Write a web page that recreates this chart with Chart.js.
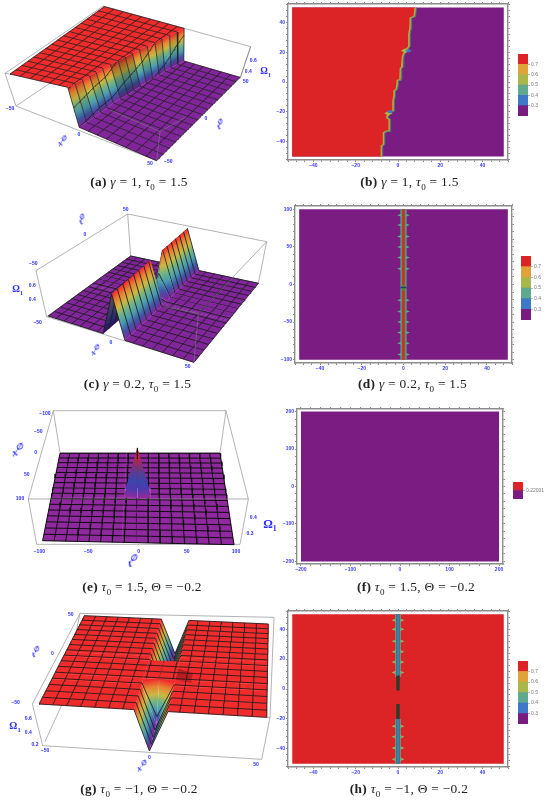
<!DOCTYPE html>
<html><head><meta charset="utf-8">
<script src="https://cdn.jsdelivr.net/npm/chart.js@4"></script>
<style>
html,body{margin:0;padding:0;background:#fff}
body{position:relative;width:550px;height:800px;overflow:hidden}
canvas{position:absolute;filter:blur(.35px)}
.cap{position:absolute;transform:translate(-50%,-50%);font:13.4px "Liberation Serif",serif;letter-spacing:.28px;color:#222;white-space:nowrap;filter:blur(.2px)}
.cap sub{font-size:9px;line-height:0}
.t{position:absolute;transform:translate(-50%,-50%);color:#2a2aff;font:bold 5px "Liberation Sans",sans-serif;white-space:nowrap;filter:blur(.25px)}
.n{font:bold italic 8px "Liberation Serif",serif}
.n.o{font-style:normal}
.n sup{font-size:.75em;line-height:0}
.n sub{font-size:.65em;line-height:0}
</style></head><body>
<script>
/* ---------- data ---------- */
const meshTicks50=[-50,-43.75,-37.5,-31.25,-25,-18.75,-12.5,-6.25,0,6.25,12.5,18.75,25,31.25,37.5,43.75,50];
const meshTicks100=[-100,-87.5,-75,-62.5,-50,-37.5,-25,-12.5,0,12.5,25,37.5,50,62.5,75,87.5,100];
// (a) height field: top and foot of the front by t
const rowsA=[-50,-43.75,-37.5,-31.25,-25,-18.75,-12.5,-6.25,0,6.25,12.5,18.75,25,31.25,37.5,43.75,50];
const wallTopA=[-13,-12,-11,-10,-9.5,-9,-7.5,-6,-5,-4,-3,-1.5,0,1,2.5,4,5];
const wallFootA=[0,.5,1,1.5,1.5,1.5,2.5,3.5,4,4.5,5,6,7,7.5,8.5,10,11];
const shadeA=[.95,.9,1,.9,1,1,.8,.75,.8,1,.9,1,.9,1,.9,1,1];
// (c) ridge: peak height by t
const rowsC=[-50,-37.5,-25,-12.5,-4,-2.5,1,6,12,25,37.5,50];
const peakC=[.75,.75,.75,.75,.75,.28,.3,.5,.75,.75,.75,.75];
// (e) spike
const rowsE=[-100,-14,0,9,100];
const stationsE=[-100,-15,0,15,100];
const omegaE=[[.25,.25,.25,.25,.25],[.25,.25,.25,.25,.25],[.25,.25,.5,.25,.25],[.25,.25,.25,.25,.25],[.25,.25,.25,.25,.25]];
// (g) valley: floor height by t
const rowsG=[-50,-37.5,-26,-20,-1,4,12.5,25,37.5,50];
const floorG=[.22,.22,.22,.75,.75,.22,.22,.22,.22,.22];
// (b) contour front
const frontBx=[-8,-8,-7,-7,-5.5,-4.3,-4.3,-5.5,-5,-5.5,-4,-2.5,-2.5,-2.5,-2,-2,-1,-.5,-.5,.8,1,1.6,2,2.5,3.5,5,5,5.5,5.7,7.5,8];
const frontBy=[-50,-43,-42,-34,-33,-33,-25,-24,-22,-21,-20,-19.5,-15,-13,-9,-6,-5,-1,1,1.5,9,10,17,19,21,24,32,36,43,44,50];
// (d) (h) contour bumps
const bumpsD=[92,79,64,50,36,21,-21,-36,-50,-64,-78,-93];
const bumpsH=[46,40,32,25,18,11,-25,-32,-39.5,-47];
// colour-bar bands
const bandEdges=[.2,.3,.4,.5,.6,.7,.8];
const bandColors=['#781c81','#3f78c8','#5fa98f','#a9b64a','#e0a33a','#dc2427'];
const barTicks=[.3,.4,.5,.6,.7];
const rainbow=['#80259a','#3f56a7','#4a9bb0','#6db388','#cab843','#e78532','#ef2b2c'];
const sparkE=['#90299f','#3c3fb0','#3a4aa8','#7a2f7a','#c02a40','#d8242c'];
const darkBack=['#2a1560','#2a2a70','#3a3a68','#4a4a5a','#5a5040'];

/* ---------- helpers ---------- */
const PURPLE='#7a1c82',RED='#dc2427',TEAL='#5fa98f',YG='#a9b64a',BLUE='#3f78c8',BLUEFONT='#3a3aff';
function hex(c){return [1,3,5].map(i=>parseInt(c.substr(i,2),16));}
function pal(p,v){v=Math.max(0,Math.min(1,v));const f=v*(p.length-1),i=Math.min(p.length-2,Math.floor(f)),r=f-i,
 a=hex(p[i]),b=hex(p[i+1]);return 'rgb('+a.map((q,k)=>Math.round(q+(b[k]-q)*r)).join(',')+')';}
function shadeCol(c,s){const m=c.match(/\d+/g).map(Number);return 'rgb('+m.map(q=>Math.round(q*s)).join(',')+')';}
function sq2q(A,C,D,B){const [x0,y0]=A,[x1,y1]=C,[x2,y2]=D,[x3,y3]=B,
 dx1=x1-x2,dx2=x3-x2,sx=x0-x1+x2-x3,dy1=y1-y2,dy2=y3-y2,sy=y0-y1+y2-y3,den=dx1*dy2-dx2*dy1,
 g=(sx*dy2-dx2*sy)/den,h=(dx1*sy-sx*dy1)/den,a=x1-x0+g*x1,b=x3-x0+h*x3,c=x0,d=y1-y0+g*y1,e=y3-y0+h*y3,f=y0;
 return (u,v)=>{const w=g*u+h*v+1;return [(a*u+b*v+c)/w,(d*u+e*v+f)/w];};}
function line(data,color,w,extra){return Object.assign({type:'scatter',showLine:true,data,borderColor:color,borderWidth:w,pointRadius:0,fill:false,tension:0},extra||{});}
function poly(data,color,edge,w){return {type:'scatter',showLine:true,data:data.concat([data[0]]),backgroundColor:color,borderColor:edge||color,borderWidth:w===undefined?.4:w,pointRadius:0,fill:'shape',tension:0};}
function rect(a,b,c,d,col){return poly([{x:a,y:c},{x:b,y:c},{x:b,y:d},{x:a,y:d}],col,col,0);}
function diamond(cx,cy,hw,hh,col){return poly([{x:cx-hw,y:cy},{x:cx,y:cy-hh},{x:cx+hw,y:cy},{x:cx,y:cy+hh}],col,col,0);}
function seq(ds){ds.forEach((d,i)=>d.order=-i);return ds;}

/* ---------- projected height-field panel ---------- */
function surface3D(v){
 const H0=sq2q(v.z0[0],v.z0[2],v.z0[3],v.z0[1]),H1=sq2q(v.z1[0],v.z1[2],v.z1[3],v.z1[1]);
 const [a0,a1]=v.aRange,[b0,b1]=v.bRange,[o0,o1]=v.oRange;
 const P=(a,b,o)=>{const u=(a-a0)/(a1-a0),w=(b-b0)/(b1-b0),z=(o-o0)/(o1-o0),p=H0(u,w),q=H1(u,w);
   return {x:p[0]+(q[0]-p[0])*z,y:p[1]+(q[1]-p[1])*z};};
 const out=[];
 const pushBox=(list,c,w)=>{const d=[];list.forEach(s=>{s.forEach(p=>d.push({x:p[0],y:p[1]}));d.push({x:NaN,y:NaN});});out.push(line(d,c,w));};
 pushBox(v.boxBack,'#a0a0a0',.8);
 const nR=v.rows.length,nC=v.stations[0].length;
 let rowsIdx=[...Array(nR-1).keys()];if(v.farHigh)rowsIdx.reverse();
 const order=[];
 if(v.order==='col'){for(let j=0;j<nC-1;j++)for(const i of rowsIdx)order.push([i,j]);}
 else{for(const i of rowsIdx)for(const j of v.colOrder)order.push([i,j]);}
 for(const [i,j] of order){
  const bA=v.rows[i],bB=v.rows[i+1],a00=v.stations[i][j],a01=v.stations[i][j+1],a10=v.stations[i+1][j],a11=v.stations[i+1][j+1],
   z00=v.omega[i][j],z01=v.omega[i][j+1],z10=v.omega[i+1][j],z11=v.omega[i+1][j+1];
  const pts=[P(a00,bA,z00),P(a01,bA,z01),P(a11,bB,z11),P(a10,bB,z10)];
  const zs=[z00,z01,z11,z10],zmin=Math.min(...zs),zmax=Math.max(...zs);
  let area=0;for(let k=0;k<4;k++){const n=pts[(k+1)%4];area+=pts[k].x*n.y-n.x*pts[k].y;}
  const back=(area*v.front<0)&&v.back;
  const palette=back?v.back:v.palette;
  const norm=o=>(o-o0)/(o1-o0);
  const sh=v.shade&&zmax-zmin>.01?v.shade[i]:1;
  const ds=poly(pts,null);
  if(zmax-zmin<1e-6){const c=pal(palette,norm(zmin));ds.backgroundColor=c;ds.borderColor=c;}
  else{
   const mx=pts.reduce((s,p)=>s+p.x,0)/4,my=pts.reduce((s,p)=>s+p.y,0)/4,mz=zs.reduce((s,q)=>s+q,0)/4;
   let sxx=0,sxy=0,syy=0,sxz=0,syz=0;pts.forEach((p,k)=>{const X=p.x-mx,Y=p.y-my,Z=zs[k]-mz;sxx+=X*X;sxy+=X*Y;syy+=Y*Y;sxz+=X*Z;syz+=Y*Z;});
   const det=sxx*syy-sxy*sxy;
   let gx=0,gy=-1e-3;if(Math.abs(det)>1e-6){gx=(sxz*syy-syz*sxy)/det;gy=(syz*sxx-sxz*sxy)/det;}
   const g2=gx*gx+gy*gy||1e-6,G0={x:mx+gx/g2*(zmin-mz),y:my+gy/g2*(zmin-mz)},G1={x:mx+gx/g2*(zmax-mz),y:my+gy/g2*(zmax-mz)};
   const midCol=pal(palette,norm((zmin+zmax)/2));
   ds.backgroundColor=(c)=>{const ch=c.chart,sx=ch.scales.x,sy=ch.scales.y;
     const q=[sx.getPixelForValue(G0.x),sy.getPixelForValue(G0.y),sx.getPixelForValue(G1.x),sy.getPixelForValue(G1.y)];
     if(!q.every(Number.isFinite))return midCol;
     const gr=ch.ctx.createLinearGradient(q[0],q[1],q[2],q[3]);
     for(let k=0;k<=6;k++)gr.addColorStop(k/6,shadeCol(pal(palette,norm(zmin+(zmax-zmin)*k/6)),sh));return gr;};
   ds.borderColor='rgba(0,0,0,0)';ds.borderWidth=0;
  }
  out.push(ds);
  // mesh inside this cell
  if(!v.meshSkipSlopes||zmax-zmin<1e-6){
   const m=[];
   const lo=Math.min(bA,bB),hi=Math.max(bA,bB);
   for(const bm of v.meshB){
    const inside=v.farHigh?(bm>lo&&bm<=hi)||(bm===lo&&lo===b0):(bm>=lo&&bm<hi)||(bm===hi&&hi===b1);
    if(!inside)continue;
    const s=(bm-bA)/(bB-bA),xl=a00+(a10-a00)*s,xr=a01+(a11-a01)*s,zl=z00+(z10-z00)*s,zr=z01+(z11-z01)*s;
    m.push(P(xl,bm,zl),P(xr,bm,zr),{x:NaN,y:NaN});}
   for(const am of v.meshA){let pen=false;
    if(v.noAWalls&&zmax-zmin>1e-6)continue;
    for(let k=0;k<=8;k++){const s=k/8,xl=a00+(a10-a00)*s,xr=a01+(a11-a01)*s;
     if(am<xl-1e-6||am>xr+1e-6||(am<=xl+1e-6&&xl!==a0)){if(pen){m.push({x:NaN,y:NaN});pen=false;}continue;}
     const q=xr>xl?(am-xl)/(xr-xl):0,z=(z00+(z01-z00)*q)*(1-s)+(z10+(z11-z10)*q)*s;
     m.push(P(am,bA+(bB-bA)*s,z));pen=true;}
    m.push({x:NaN,y:NaN});}
   if(m.length)out.push(line(m,v.meshColor||'#1a1a1a',v.meshW||.75));
  }
 }
 if(v.extra)v.extra(out,P);
 pushBox(v.boxFront,'rgba(120,120,120,.75)',.8);
 return seq(out);
}
function chart3D(ox,oy,view){
 const c=document.createElement('canvas');c.width=275;c.height=200;c.style.left=ox+'px';c.style.top=oy+'px';document.body.appendChild(c);
 new Chart(c,{type:'scatter',data:{datasets:surface3D(view)},options:{responsive:false,animation:false,events:[],
  layout:{padding:0},plugins:{legend:{display:false},tooltip:{enabled:false},title:{display:false}},
  scales:{x:{type:'linear',min:0,max:825,display:false},y:{type:'linear',min:0,max:600,reverse:true,display:false}}}});
}
function contour(fr,xr,yr,xStep,xMaj,yStep,yMaj,ds){
 const L=22,R=4,T=4,B=14;
 const c=document.createElement('canvas');c.width=fr[2]-fr[0]+L+R;c.height=fr[3]-fr[1]+T+B;c.style.left=(fr[0]-L)+'px';c.style.top=(fr[1]-T)+'px';document.body.appendChild(c);
 const gridOpt={drawOnChartArea:false,drawTicks:true,tickLength:2,tickColor:'#555',lineWidth:.7};
 const bd={color:'#8c8c8c',width:1.4};
 const fmt=maj=>v=>v%maj===0?(v<0?'\u2212'+(-v):''+v):'';
 const tk=(maj,step)=>({stepSize:step,autoSkip:false,maxRotation:0,includeBounds:false,color:BLUEFONT,font:{size:5,weight:'bold',family:'Liberation Sans'},padding:1,callback:fmt(maj)});
 new Chart(c,{type:'scatter',data:{datasets:seq(ds)},options:{responsive:false,animation:false,events:[],
  layout:{padding:0},plugins:{legend:{display:false},tooltip:{enabled:false}},
  scales:{
   x:{type:'linear',position:'bottom',min:xr[0],max:xr[1],grid:gridOpt,border:bd,ticks:tk(xMaj,xStep),afterFit:s=>{s.height=B;}},
   y:{type:'linear',position:'left',min:yr[0],max:yr[1],grid:gridOpt,border:bd,ticks:tk(yMaj,yStep),afterFit:s=>{s.width=L;}},
   xTop:{type:'linear',axis:'x',position:'top',min:xr[0],max:xr[1],grid:gridOpt,border:bd,ticks:Object.assign(tk(xMaj,xStep),{display:false}),afterFit:s=>{s.height=T;}},
   yRight:{type:'linear',axis:'y',position:'right',min:yr[0],max:yr[1],grid:gridOpt,border:bd,ticks:Object.assign(tk(yMaj,yStep),{display:false}),afterFit:s=>{s.width=R;}}
  }}});
}
function colorBar(bx,edges,colors,ticks,lab,w){
 const c=document.createElement('canvas');const W=bx[2]-bx[0]+(w||18);c.width=W;c.height=bx[3]-bx[1]+2;c.style.left=bx[0]+'px';c.style.top=(bx[1]-1)+'px';document.body.appendChild(c);
 const ds=colors.map((col,i)=>({type:'bar',data:[[edges[i],edges[i+1]]],backgroundColor:col,barPercentage:1,categoryPercentage:1,borderWidth:0}));
 new Chart(c,{type:'bar',data:{labels:[''],datasets:ds},options:{responsive:false,animation:false,events:[],
  layout:{padding:{top:1,bottom:1}},plugins:{legend:{display:false},tooltip:{enabled:false}},
  scales:{x:{stacked:true,display:false},
   y:{position:'right',min:edges[0],max:edges[edges.length-1],afterFit:s=>{s.width=w||18;},
    border:{display:false},grid:{drawOnChartArea:false,tickLength:2,tickColor:'#888',lineWidth:.6},
    afterBuildTicks:s=>{s.ticks=ticks.map(v=>({value:v}));},
    ticks:{color:'#777',font:{size:5,family:'Liberation Sans'},padding:1,autoSkip:false,callback:v=>lab?lab:(+v).toFixed(1)}}}}});
}
function label(ox,oy,zx,zy,txt,cls,rot,size){const d=document.createElement('div');d.className='t '+(cls||'');d.innerHTML=txt;d.style.left=(ox+zx/3)+'px';d.style.top=(oy+zy/3)+'px';
 if(rot)d.style.transform='translate(-50%,-50%) rotate('+rot+'deg)';if(size)d.style.fontSize=size+'px';document.body.appendChild(d);}
function caption(x,y,html){const d=document.createElement('div');d.className='cap';d.innerHTML=html;d.style.left=x+'px';d.style.top=y+'px';document.body.appendChild(d);}

/* ---------- (a) ---------- */
chart3D(0,0,{aRange:[-50,50],bRange:[-50,50],oRange:[.25,.75],front:-1,order:'col',
 z1:[[30,222],[313,20],[478,325],[735,135]],z0:[[48,300],[328,118],[470,482],[720,232]],
 rows:rowsA,farHigh:true,stations:wallTopA.map((f,i)=>[-50,f,wallFootA[i],50]),omega:rowsA.map(()=>[.75,.75,.25,.25]),
 palette:rainbow,shade:shadeA,meshA:meshTicks50,meshB:meshTicks50,
 boxBack:[[[15,220],[310,18],[752,140],[720,235]],[[15,220],[48,318],[470,482]],[[310,18],[335,125]],[[48,318],[335,125],[720,235]]],
 boxFront:[[[470,482],[480,395]],[[330,330],[480,395],[560,350]],[[15,220],[30,222]],[[720,235],[752,140]]]});
/* ---------- (c) ---------- */
chart3D(0,200,{aRange:[-50,50],bRange:[-50,50],oRange:[.25,.75],front:-1,order:'col',
 z1:[[138,222],[387,48],[575,355],[770,130]],z0:[[145,348],[392,168],[582,487],[775,250]],
 rows:rowsC,farHigh:true,stations:rowsC.map(()=>[-50,-8,-1,7,50]),omega:peakC.map(p=>[.25,.25,p,.25,.25]),
 palette:rainbow,back:darkBack,meshA:meshTicks50,meshB:meshTicks50,noAWalls:true,meshW:.85,
 boxBack:[[[108,212],[383,42],[800,125],[775,250]],[[108,212],[140,350],[582,487]],[[383,42],[392,168]],[[140,350],[392,168],[775,250]]],
 boxFront:[[[582,487],[595,340]],[[490,320],[595,340],[800,125]]]});
/* ---------- (e) ---------- */
chart3D(0,400,{aRange:[-100,100],bRange:[-100,100],oRange:[.25,.5],front:1,order:'row',colOrder:[0,3,1,2],
 z0:[[180,160],[128,422],[660,160],[702,434]],z1:[[180,25],[128,280],[660,25],[702,292]],
 rows:rowsE,stations:rowsE.map(()=>stationsE),omega:omegaE,
 palette:sparkE,meshA:meshTicks100,meshB:meshTicks100,meshSkipSlopes:true,meshW:1,meshColor:'#0c0c0c',
 boxBack:[[[160,32],[678,32]],[[160,32],[180,158],[660,158],[678,32]],[[160,32],[85,297]],[[678,32],[745,297]],[[85,297],[110,433],[720,433],[745,297]]],
 boxFront:[[[85,297],[745,297]]],
 extra:(o,P)=>{o.push(line([P(0,0,.5),P(0,0,.44)],'#111',.9));}});
/* ---------- (g) ---------- */
chart3D(0,600,{aRange:[-50,50],bRange:[-50,50],oRange:[.22,.75],front:-1,order:'row',colOrder:[0,3,1,2],
 z1:[[117,312],[253,47],[800,352],[805,72]],z0:[[135,432],[258,150],[780,475],[805,172]],
 rows:rowsG,farHigh:true,stations:rowsG.map(()=>[-50,-7.5,0,7.5,50]),omega:floorG.map(f=>[.75,.75,f,.75,.75]),
 palette:rainbow,meshA:meshTicks50,meshB:meshTicks50,noAWalls:true,meshW:.85,
 boxBack:[[[97,312],[240,40],[822,52],[810,352]],[[97,312],[128,437],[785,478],[810,352]],[[240,40],[183,320],[135,425]]],
 boxFront:[[[810,352],[800,352]]],
 extra:(o,P)=>{o.push(poly([P(7.5,-20,.75),P(15,-22,.75),P(15,-12,.75),P(7.5,-8,.75)],'rgba(70,0,10,.32)','rgba(70,0,10,0)',0));}});

/* ---------- contour panels ---------- */
const fb=frontBx.map((x,i)=>({x,y:frontBy[i]}));
contour([288,4,508,160],[-52,52],[-52.4,52.4],4,20,4,20,[
 rect(-50,50,-50,50,PURPLE),
 poly([{x:-50,y:-50},...fb,{x:-50,y:50}],RED,RED,0),
 line(fb.map(p=>({x:p.x+.1,y:p.y})),'#e0a33a',1.3),
 line(fb.map(p=>({x:p.x+.4,y:p.y})),'#8fae55',1.3),
 line(fb.map(p=>({x:p.x+.8,y:p.y})),'#3f7f6f',.9),
 diamond(-4.5,-21,2,1.6,YG),diamond(-3.8,-20,1.6,1.2,BLUE),diamond(3.5,21,2.2,1.6,YG),diamond(5,21,1.6,1.2,BLUE)
]);
contour([295,206,512,363],[-52,52],[-104.4,104.4],4,20,10,50,[
 rect(-50,50,-100,100,PURPLE),rect(-1.45,1.45,-100,100,TEAL),
 ...bumpsD.map(y=>diamond(0,y,3.1,3,TEAL)),
 rect(-.95,.95,-100,100,'#4a8a46'),rect(-.55,.55,-100,-8,RED),rect(-.55,.55,-1,100,RED),rect(-1.4,1.4,-5,-3,'#263a7a')
]);
contour([297,409,503,564],[-208,208],[-207,207],20,100,20,100,[rect(-200,200,-200,200,PURPLE)]);
contour([288,611,508,767],[-52,52],[-52.2,52.2],4,20,4,20,[
 rect(-50,50,-50,50,RED),
 ...bumpsH.map(y=>diamond(0,y,3,1.8,YG)),
 rect(-1.3,1.3,8,50,TEAL),rect(-1.3,1.3,-50,-20,TEAL),
 ...bumpsH.map(y=>diamond(0,y,2.1,1.3,TEAL)),
 rect(-.95,.95,8,50,'#3f7a5c'),rect(-.95,.95,-50,-20,'#3f7a5c'),
 rect(-.55,.55,8,50,BLUE),rect(-.55,.55,-50,-20,BLUE),
 rect(-.8,.8,-1,9,'#2b3a2f'),rect(-.8,.8,-20,-10,'#2b3a2f')
]);

/* ---------- colour bars ---------- */
colorBar([518,51,528,119],bandEdges,bandColors,barTicks);
colorBar([521,253,531,323],bandEdges,bandColors,barTicks);
colorBar([513,479,523,502],[.22,.22001,.22002],[PURPLE,RED],[.22001],'0.22001',26);
colorBar([518,658,528,727],bandEdges,bandColors,barTicks);

/* ---------- 3D axis labels ---------- */
const NX='x<sup>\u2205</sup>',NT='t<sup>\u2205</sup>',NO='\u03a9<sub>1</sub>';
[[30,323,'\u221250'],[237,403,'0'],[450,490,'50'],[505,482,'\u221250'],[618,355,'0'],[737,243,'50'],[745,212,'0.4'],[760,180,'0.6']].forEach(a=>label(0,0,a[0],a[1],a[2]));
label(0,0,190,425,NX,'n',-18,8.5);label(0,0,663,375,NT,'n',-32,8.5);label(0,0,797,212,NO,'n o',0,9.5);
[[377,28,'50'],[255,102,'0'],[100,190,'\u221250'],[113,365,'\u221250'],[333,425,'0'],[563,497,'50'],[97,255,'0.6'],[97,298,'0.4']].forEach(a=>label(0,200,a[0],a[1],a[2]));
label(0,200,248,60,NT,'n',-35,8.5);label(0,200,288,452,NX,'n',-22,8.5);label(0,200,53,268,NO,'n o',0,9.5);
[[135,38,'\u2212100'],[115,92,'\u221250'],[107,155,'0'],[80,222,'50'],[60,295,'100'],[118,452,'\u2212100'],[265,452,'\u221250'],[416,452,'0'],[560,452,'50'],[708,452,'100'],[760,352,'0.4'],[750,398,'0.3']].forEach(a=>label(0,400,a[0],a[1],a[2]));
label(0,400,55,152,NX,'n',-15,11);label(0,400,400,485,NT,'n',-15,11);label(0,400,810,372,NO,'n o',0,12);
[[212,42,'50'],[157,160,'0'],[47,307,'\u221250'],[85,355,'0.6'],[85,395,'0.4'],[105,433,'0.2'],[135,451,'\u221250'],[448,470,'0'],[768,492,'50']].forEach(a=>label(0,600,a[0],a[1],a[2]));
label(0,600,107,160,NT,'n',-25,9);label(0,600,425,500,NX,'n',-20,9);label(0,600,45,375,NO,'n o',0,10);

/* ---------- captions ---------- */
const G='<i>\u03b3</i>',TA='<i>\u03c4</i><sub>0</sub>',TH='\u0398';
caption(139,182,'<b>(a)</b> '+G+' = 1, '+TA+' = 1.5');
caption(409.5,182,'<b>(b)</b> '+G+' = 1, '+TA+' = 1.5');
caption(137.5,384,'<b>(c)</b> '+G+' = 0.2, '+TA+' = 1.5');
caption(412.5,384,'<b>(d)</b> '+G+' = 0.2, '+TA+' = 1.5');
caption(142,587,'<b>(e)</b> '+TA+' = 1.5, '+TH+' = \u22120.2');
caption(416,587,'<b>(f)</b> '+TA+' = 1.5, '+TH+' = \u22120.2');
caption(139,789,'<b>(g)</b> '+TA+' = \u22121, '+TH+' = \u22120.2');
caption(409,789,'<b>(h)</b> '+TA+' = \u22121, '+TH+' = \u22120.2');
</script>
</body></html>
